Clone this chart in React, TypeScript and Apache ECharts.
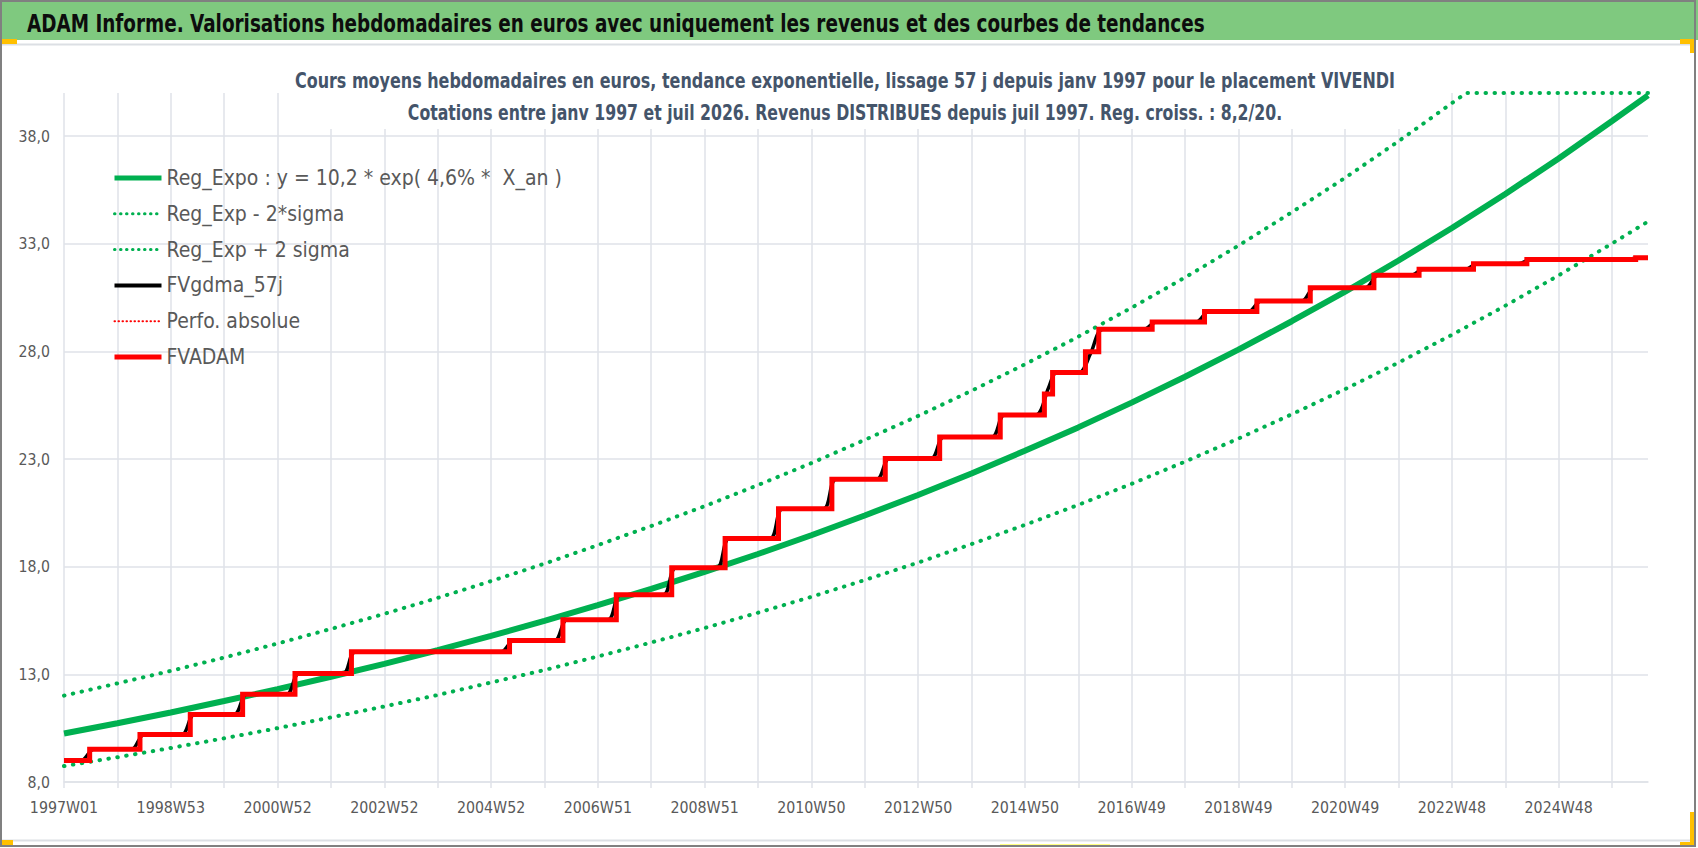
import React, { useEffect, useRef } from "react";
import * as echarts from "echarts";

// ---------- DATA ----------
const WEEK_COUNT = 1544; // 1997W01 .. 2026W31

// regression (exponential) read at each yearly gridline (every 52 weeks) + last week
const trendWeeks = [0, 52, 104, 156, 208, 260, 312, 364, 416, 468, 520, 572, 624, 676, 728, 780, 832, 884, 936, 988, 1040, 1092, 1144, 1196, 1248, 1300, 1352, 1404, 1456, 1508, 1543];
const regExpo = [10.25, 10.73, 11.23, 11.76, 12.31, 12.89, 13.49, 14.12, 14.79, 15.48, 16.21, 16.97, 17.76, 18.59, 19.46, 20.38, 21.33, 22.33, 23.38, 24.47, 25.62, 26.82, 28.08, 29.40, 30.77, 32.22, 33.73, 35.31, 36.96, 38.70, 39.89];
const regMinus2Sigma = [8.74, 9.15, 9.58, 10.03, 10.50, 11.00, 11.51, 12.04, 12.62, 13.20, 13.83, 14.48, 15.15, 15.86, 16.60, 17.38, 18.19, 19.05, 19.94, 20.87, 21.85, 22.88, 23.95, 25.08, 26.25, 27.48, 28.77, 30.12, 31.53, 33.01, 34.03];
// upper band, flattened on the top of the plot once it reaches 40
const upperWeeks = [0, 52, 104, 156, 208, 260, 312, 364, 416, 468, 520, 572, 624, 676, 728, 780, 832, 884, 936, 988, 1040, 1092, 1144, 1196, 1248, 1300, 1352, 1366, 1543];
const regPlus2Sigma = [12.01, 12.58, 13.16, 13.78, 14.43, 15.11, 15.81, 16.55, 17.33, 18.14, 19.00, 19.89, 20.81, 21.79, 22.81, 23.89, 25.00, 26.17, 27.40, 28.68, 30.03, 31.43, 32.91, 34.46, 36.06, 37.76, 39.53, 40.0, 40.0];

// FVADAM: week where each level starts, and the level
const fvStartWeeks = [0, 25, 74, 123, 174, 225, 280, 434, 486, 538, 592, 644, 696, 748, 800, 853, 912, 955, 963, 995, 1008, 1060, 1111, 1162, 1214, 1276, 1320, 1373, 1425, 1531];
const fvLevels = [9.00, 9.52, 10.21, 11.14, 12.07, 13.04, 14.05, 14.57, 15.53, 16.70, 17.95, 19.31, 20.69, 22.06, 23.03, 24.02, 25.05, 26.02, 27.02, 27.98, 29.03, 29.37, 29.85, 30.34, 30.96, 31.53, 31.81, 32.07, 32.27, 32.35];

// FVgdma_57j (smoothed), knots [week, value]
const gdmaKnots: [number, number][] = [
  [0, 9.0], [17, 9.0], [29, 9.52], [66, 9.52], [78, 10.21], [115, 10.21], [127, 11.14],
  [166, 11.14], [178, 12.07], [217, 12.07], [229, 13.04], [272, 13.04], [284, 14.05],
  [426, 14.05], [438, 14.57], [478, 14.57], [490, 15.53], [530, 15.53], [542, 16.70],
  [584, 16.70], [596, 17.95], [636, 17.95], [648, 19.31], [688, 19.31], [700, 20.69],
  [740, 20.69], [752, 22.06], [792, 22.06], [804, 23.03], [845, 23.03], [857, 24.02],
  [904, 24.02], [916, 25.05], [947, 25.05], [959, 26.3], [967, 27.02], [989, 27.02],
  [1000, 27.9], [1012, 29.03], [1052, 29.03], [1064, 29.37], [1103, 29.37], [1115, 29.85],
  [1154, 29.85], [1166, 30.34], [1206, 30.34], [1218, 30.96], [1268, 30.96], [1280, 31.53],
  [1312, 31.53], [1324, 31.81], [1365, 31.81], [1377, 32.07], [1417, 32.07], [1429, 32.27],
  [1523, 32.27], [1535, 32.35], [1543, 32.35],
];

const yTicks = { min: 8, max: 40, interval: 5 };

const TITLE = "ADAM Informe. Valorisations hebdomadaires en euros avec uniquement les revenus et des courbes de tendances";
const SUB1 = "Cours moyens hebdomadaires en euros, tendance exponentielle, lissage 57 j depuis janv 1997 pour le placement VIVENDI";
const SUB2 = "Cotations entre janv 1997 et juil 2026. Revenus DISTRIBUES depuis juil 1997. Reg. croiss. : 8,2/20.";
const LEG = ["Reg_Expo : y = 10,2 * exp( 4,6% *  X_an )", "Reg_Exp - 2*sigma", "Reg_Exp + 2 sigma", "FVgdma_57j", "Perfo. absolue", "FVADAM"];

// ISO week labels
function weekLabels(n: number): string[] {
  const out: string[] = [];
  const start = Date.UTC(1996, 11, 30); // Monday of 1997W01
  const DAY = 86400000;
  for (let i = 0; i < n; i++) {
    const thu = new Date(start + (i * 7 + 3) * DAY);
    const y = thu.getUTCFullYear();
    const doy = Math.floor((thu.getTime() - Date.UTC(y, 0, 1)) / DAY);
    const w = Math.floor(doy / 7) + 1;
    out.push(`${y}W${w < 10 ? "0" + w : w}`);
  }
  return out;
}

function measure(text: string, font: string): number {
  const c = document.createElement("canvas").getContext("2d");
  if (!c) return 1;
  c.font = font;
  return c.measureText(text).width || 1;
}

function pickFont(cands: string[], fallback: string): string {
  const probe = "mmmWWWiiil0123456789,.";
  const base = measure(probe, "40px monospace");
  for (const f of cands) {
    if (Math.abs(measure(probe, `40px '${f}', monospace`) - base) > 0.5) return `'${f}'`;
  }
  return fallback;
}

export default function App() {
  const ref = useRef<HTMLDivElement>(null);
  useEffect(() => {
    if (!ref.current) return;
    const chart = echarts.init(ref.current, undefined, { renderer: "svg" });
    const cats = weekLabels(WEEK_COUNT);

    const narrow = pickFont(
      ["Liberation Sans Narrow", "Noto Sans Condensed", "Noto Sans SemiCondensed", "DejaVu Sans Condensed"],
      "'DejaVu Sans Condensed'"
    );
    const FONT = `${narrow}, 'DejaVu Sans Condensed', sans-serif`;

    const titleSize = 25;
    const titleScale = 1178 / measure(TITLE, `bold ${titleSize}px ${FONT}`);
    const subSize = 21;
    const sub1Scale = 1100 / measure(SUB1, `bold ${subSize}px ${FONT}`);
    const sub2Scale = 875 / measure(SUB2, `bold ${subSize}px ${FONT}`);
    // sizes fitted to the reference widths, slightly enlarged to approach its taller glyphs
    const legSize = Math.round(((20 * 360) / measure(LEG[0], `20px ${FONT}`)) * 1.1 * 10) / 10;
    const ySize = Math.round(((20 * 28) / measure("38,0", `20px ${FONT}`)) * 1.12 * 10) / 10;
    const xSize = Math.round(((20 * 62) / measure("1997W01", `20px ${FONT}`)) * 1.1 * 10) / 10;

    const grid = "#dfe2e8";
    const green = "#00b050";
    const red = "#ff0000";

    const fvData: [number, number][] = fvStartWeeks.map((w, i) => [w, fvLevels[i]]);
    fvData.push([WEEK_COUNT - 1, fvLevels[fvLevels.length - 1]]);

    const dotted = { type: [0.5, 8.5] as number[], cap: "round" as const, width: 4 };
    const legDot = { type: [0.5, 5.5] as number[], cap: "round" as const, width: 3 };

    chart.setOption({
      animation: false,
      backgroundColor: "#ffffff",
      grid: { left: 64, right: 50, top: 93, bottom: 66, containLabel: false },
      legend: {
        orient: "vertical",
        left: 112,
        top: 167,
        padding: 0,
        itemWidth: 47,
        itemHeight: 14,
        itemGap: 13.8,
        itemStyle: { opacity: 0 },
        data: [
          { name: LEG[0], lineStyle: { width: 5, color: green } },
          { name: LEG[1], lineStyle: { color: green, ...legDot } },
          { name: LEG[2], lineStyle: { color: green, ...legDot } },
          { name: LEG[3], lineStyle: { width: 4, color: "#000000" } },
          { name: LEG[4], lineStyle: { color: red, type: [0.5, 3.5], cap: "round", width: 2 } },
          { name: LEG[5], lineStyle: { width: 5, color: red } },
        ],
        textStyle: { fontFamily: FONT, fontSize: legSize, color: "#595959", lineHeight: 22 },
        selectedMode: false,
      },
      xAxis: {
        type: "category",
        data: cats,
        boundaryGap: false,
        axisLine: { show: true, lineStyle: { color: grid, width: 1.5 } },
        axisTick: { show: true, interval: 51, length: 6, lineStyle: { color: grid, width: 1.5 } },
        splitLine: { show: true, interval: 51, lineStyle: { color: grid, width: 1.5 } },
        axisLabel: { interval: 103, margin: 17, fontFamily: FONT, fontSize: xSize, color: "#595959" },
      },
      yAxis: {
        type: "value",
        min: yTicks.min,
        max: yTicks.max,
        interval: yTicks.interval,
        axisLine: { show: false },
        axisTick: { show: false },
        splitLine: { show: true, showMaxLine: false, lineStyle: { color: grid, width: 1.5 } },
        axisLabel: {
          showMaxLabel: false,
          margin: 14,
          fontFamily: FONT,
          fontSize: ySize,
          color: "#595959",
          formatter: (v: number) => v.toFixed(1).replace(".", ","),
        },
      },
      series: [
        {
          name: LEG[0], type: "line", symbol: "none", silent: true,
          data: trendWeeks.map((w, i) => [w, regExpo[i]]),
          lineStyle: { color: green, width: 6 }, itemStyle: { color: green },
        },
        {
          name: LEG[1], type: "line", symbol: "none", silent: true,
          data: trendWeeks.map((w, i) => [w, regMinus2Sigma[i]]),
          lineStyle: { color: green, ...dotted }, itemStyle: { color: green },
        },
        {
          name: LEG[2], type: "line", symbol: "none", silent: true,
          data: upperWeeks.map((w, i) => [w, regPlus2Sigma[i]]),
          lineStyle: { color: green, ...dotted }, itemStyle: { color: green },
        },
        {
          name: LEG[3], type: "line", symbol: "none", silent: true, smooth: 0.3,
          data: gdmaKnots,
          lineStyle: { color: "#000000", width: 3.5, join: "round" }, itemStyle: { color: "#000000" },
        },
        {
          name: LEG[4], type: "line", symbol: "none", silent: true,
          data: [],
          lineStyle: { color: red, type: [0.5, 3.5], cap: "round", width: 2 }, itemStyle: { color: red },
        },
        {
          name: LEG[5], type: "line", symbol: "none", silent: true, step: "end",
          data: fvData,
          lineStyle: { color: red, width: 5, join: "miter" }, itemStyle: { color: red },
        },
      ],
      graphic: [
        { type: "rect", z: 1, shape: { x: 290, y: 60, width: 1130, height: 69 }, style: { fill: "#ffffff" } },
        { type: "rect", z: 5, shape: { x: 0, y: 0, width: 1698, height: 40 }, style: { fill: "#7fc97f" } },
        { type: "line", z: 5, shape: { x1: 0, y1: 44.5, x2: 1690, y2: 44.5 }, style: { stroke: "#dcdfe4", lineWidth: 2 } },
        { type: "line", z: 5, shape: { x1: 0, y1: 840.5, x2: 1690, y2: 840.5 }, style: { stroke: "#dcdfe4", lineWidth: 2 } },
        { type: "rect", z: 6, shape: { x: 0, y: 39, width: 17, height: 5 }, style: { fill: "#ffc000" } },
        { type: "rect", z: 6, shape: { x: 1680, y: 39, width: 16, height: 5 }, style: { fill: "#ffc000" } },
        { type: "rect", z: 6, shape: { x: 1690, y: 39, width: 6, height: 14 }, style: { fill: "#ffc000" } },
        { type: "rect", z: 6, shape: { x: 0, y: 840, width: 13, height: 5 }, style: { fill: "#ffc000" } },
        { type: "rect", z: 6, shape: { x: 1680, y: 842, width: 16, height: 4 }, style: { fill: "#ffc000" } },
        { type: "rect", z: 6, shape: { x: 1690, y: 812, width: 6, height: 34 }, style: { fill: "#ffc000" } },
        { type: "rect", z: 6, shape: { x: 1000, y: 844, width: 110, height: 2 }, style: { fill: "#ffff80" } },
        {
          type: "text", z: 7, x: 27, y: 23, scaleX: titleScale,
          style: { text: TITLE, fill: "#0d0d0d", font: `bold ${titleSize}px ${FONT}`, align: "left", verticalAlign: "middle" },
        },
        {
          type: "text", z: 7, x: 845, y: 80.5, scaleX: sub1Scale,
          style: { text: SUB1, fill: "#44546a", font: `bold ${subSize}px ${FONT}`, align: "center", verticalAlign: "middle" },
        },
        {
          type: "text", z: 7, x: 845, y: 112.5, scaleX: sub2Scale,
          style: { text: SUB2, fill: "#44546a", font: `bold ${subSize}px ${FONT}`, align: "center", verticalAlign: "middle" },
        },
        { type: "rect", z: 10, shape: { x: 1, y: 1, width: 1694, height: 845 }, style: { fill: "none", stroke: "#808080", lineWidth: 2 } },
      ],
    });
    return () => chart.dispose();
  }, []);
  return <div ref={ref} style={{ position: "fixed", left: 0, top: 0, width: 1698, height: 848 }} />;
}
